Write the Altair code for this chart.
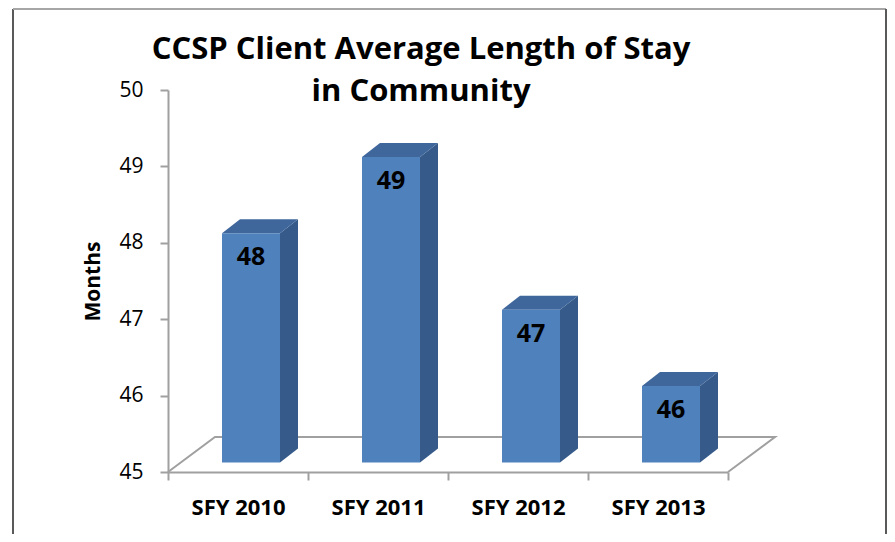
import json
import altair as alt
import pandas as pd

# ---- data ----
categories = ["SFY 2010", "SFY 2011", "SFY 2012", "SFY 2013"]
values = [48, 49, 47, 46]
y_ticks = [45, 46, 47, 48, 49, 50]
title_lines = ["CCSP Client Average Length of Stay", "in Community"]
y_title = "Months"

# ---- geometry / style constants ----
W, H = 560, 382
BASE, TOP = 45, 50
PX_X = W / len(categories)          # px per category
PX_Y = H / (TOP - BASE)             # px per month
FRONT_L = 54 / PX_X
FRONT_R = 112 / PX_X
DX = 18 / PX_X                       # 3-D depth of bars
DY = 14 / PX_Y
LIFT = 9.5 / PX_Y                    # bars sit back on the floor
FLOOR_DX = 47 / PX_X
FLOOR_DY = 35 / PX_Y

FONT = "Open Sans"
AXIS_GRAY = "#A0A0A0"
FRONT_C = "#4F81BD"
TOP_C = "#3F679C"
SIDE_C = "#365A89"

# ---- tables built from the arrays ----
front = pd.DataFrame({
    "cat": categories,
    "value": values,
    "x0": [i + FRONT_L for i in range(len(values))],
    "x1": [i + FRONT_R for i in range(len(values))],
    "top": [v + LIFT for v in values],
    "bot": [BASE + LIFT] * len(values),
})
front["xc"] = (front["x0"] + front["x1"]) / 2

side_rows, top_rows = [], []
for i, v in enumerate(values):
    xl, xr = i + FRONT_L, i + FRONT_R
    t, b = v + LIFT, BASE + LIFT
    side_rows += [
        {"bar": i, "x": xr, "y": t, "y2": b},
        {"bar": i, "x": xr + DX, "y": t + DY, "y2": b + DY},
    ]
    top_rows += [
        {"bar": i, "x": xl, "y": t, "y2": t},
        {"bar": i, "x": xl + DX, "y": t + DY, "y2": t},
        {"bar": i, "x": xr, "y": t + DY, "y2": t},
        {"bar": i, "x": xr + DX, "y": t + DY, "y2": t + DY},
    ]
side = pd.DataFrame(side_rows)
topf = pd.DataFrame(top_rows)

n = len(categories)
floor = pd.DataFrame({
    "x": [0, FLOOR_DX, n + FLOOR_DX, n],
    "y": [BASE, BASE + FLOOR_DY, BASE + FLOOR_DY, BASE],
    "o": [0, 1, 2, 3],
})

label_expr = "datum.value < %d ? %s[datum.value] : ''" % (n, json.dumps(categories))

x_scale = alt.Scale(domain=[0, n], nice=False, zero=False)
y_scale = alt.Scale(domain=[BASE, TOP], nice=False, zero=False)

x_axis = alt.Axis(
    values=list(range(n + 1)), labelExpr=label_expr, labelOffset=PX_X / 2,
    title=None, grid=False, tickSize=8, tickColor=AXIS_GRAY, tickWidth=2,
    domainColor=AXIS_GRAY, domainWidth=2, labelFont=FONT, labelFontSize=22,
    labelFontWeight="bold", labelColor="#000000", labelPadding=17,
    labelOverlap=False, labelFlush=False, labelBound=False,
)
y_axis = alt.Axis(
    values=y_ticks, title=y_title, grid=False, tickSize=8, tickColor=AXIS_GRAY,
    tickWidth=2, domainColor=AXIS_GRAY, domainWidth=2, labelFont=FONT,
    labelFontSize=21, labelColor="#000000", labelPadding=17,
    titleFont=FONT, titleFontSize=21, titleFontWeight="bold", titleColor="#000000",
    titleX=-75, titleY=191, titleAngle=-90, titleAlign="center", titleBaseline="middle",
)


def X(field):
    return alt.X(field, type="quantitative", scale=x_scale, axis=x_axis)


def Y(field):
    return alt.Y(field, type="quantitative", scale=y_scale, axis=y_axis, stack=None)


floor_layer = alt.Chart(floor).mark_line(color=AXIS_GRAY, strokeWidth=2).encode(
    x=X("x"), y=Y("y"), order="o:Q"
)

side_layer = alt.Chart(side).mark_area(color=SIDE_C, orient="vertical").encode(
    x=X("x"), y=Y("y"), y2="y2", detail="bar:N"
)

top_layer = alt.Chart(topf).mark_area(color=TOP_C, orient="vertical").encode(
    x=X("x"), y=Y("y"), y2="y2", detail="bar:N"
)

front_layer = alt.Chart(front).mark_bar(color=FRONT_C).encode(
    x=X("x0"), x2="x1", y=Y("top"), y2="bot"
)

text_layer = alt.Chart(front).mark_text(
    dy=24, font=FONT, fontSize=25, fontWeight="bold", color="#000000", baseline="middle"
).encode(x=X("xc"), y=Y("top"), text="value:Q")

one = pd.DataFrame({"a": [0]})
border_left = alt.Chart(one).mark_rule(color="#595959", strokeWidth=2).encode(
    x=alt.value(-155), y=alt.value(-81), y2=alt.value(H + 62)
)
border_top = alt.Chart(one).mark_rule(color="#A6A6A6", strokeWidth=2).encode(
    x=alt.value(-155), x2=alt.value(W + 158), y=alt.value(-81)
)
border_right = alt.Chart(one).mark_rule(color="#595959", strokeWidth=2).encode(
    x=alt.value(W + 158), y=alt.value(-81), y2=alt.value(H + 62)
)

title_style = dict(font=FONT, fontSize=31, fontWeight="bold", color="#000000",
                   align="center", baseline="alphabetic")
title1 = alt.Chart(one).mark_text(**title_style).encode(
    x=alt.value(253), y=alt.value(-31), text=alt.value(title_lines[0])
)
title2 = alt.Chart(one).mark_text(**title_style).encode(
    x=alt.value(253), y=alt.value(11), text=alt.value(title_lines[1])
)

chart = alt.layer(
    border_left, border_top, border_right,
    floor_layer, side_layer, top_layer, front_layer, text_layer,
    title1, title2,
).properties(
    width=W, height=H,
    padding={"left": 160, "top": 82, "right": 159, "bottom": 62},
    autosize=alt.AutoSizeParams(type="none"),
    background="white",
).configure_view(stroke=None)

chart.save("out.html", embed_options={"renderer": "svg", "actions": False})
